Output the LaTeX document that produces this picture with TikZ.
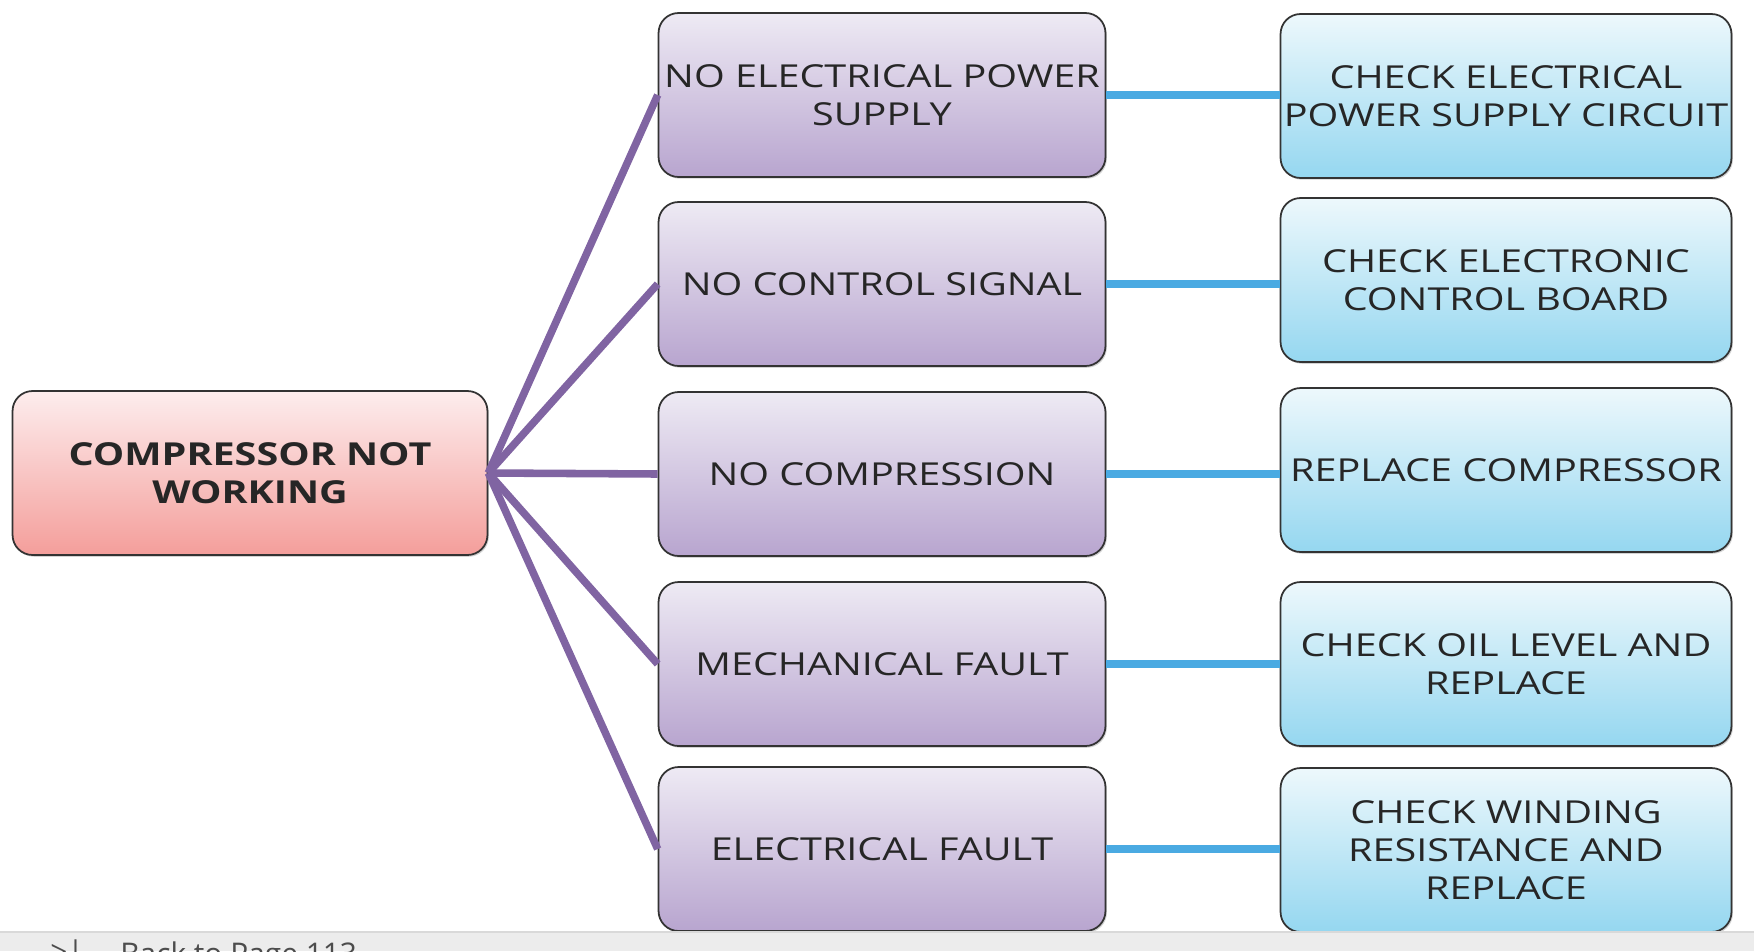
\documentclass[tikz,border=0pt]{standalone}
\usepackage{fontspec}
\setmainfont{Open Sans}
\newfontfamily\boxfont[FakeStretch=1.25]{Open Sans}
\usetikzlibrary{shadows}
\definecolor{rootTop}{HTML}{FDEDED}
\definecolor{rootBot}{HTML}{F49E9B}
\definecolor{causeTop}{HTML}{EEEAF4}
\definecolor{causeBot}{HTML}{B8A5CF}
\definecolor{fixTop}{HTML}{EDF8FC}
\definecolor{fixBot}{HTML}{95D7F0}
\definecolor{lnPurple}{HTML}{8064A2}
\definecolor{lnBlue}{HTML}{4AAAE2}
\definecolor{barGray}{HTML}{ECECEC}
\begin{document}
\begin{tikzpicture}[x=0.02cm, y=-0.02cm,
  box/.style={draw=black!80, line width=1pt, rounded corners=0.4cm, align=center,
    minimum height=3.28cm, inner sep=0pt, text=black!85,
    drop shadow={opacity=0.35, shadow xshift=0.8pt, shadow yshift=-1pt},
    font=\boxfont\fontsize{18}{21.6}\selectfont},
  rootbox/.style={box, minimum width=9.5cm, top color=rootTop, bottom color=rootBot,
    font=\boxfont\fontsize{18}{21.6}\selectfont\bfseries},
  causebox/.style={box, minimum width=8.94cm, top color=causeTop, bottom color=causeBot},
  fixbox/.style={box, minimum width=9.02cm, top color=fixTop, middle color=fixBot, bottom color=fixBot},
  toCause/.style={draw=lnPurple, line width=4.3pt},
  toFix/.style={draw=lnBlue, line width=4.2pt}]
  \useasboundingbox (0,0) rectangle (1754,951);
  % root
  \node[rootbox] (root) at (250,473) {COMPRESSOR NOT\\WORKING};
  % causes
  \node[causebox] (c1) at (882,95) {NO ELECTRICAL POWER\\SUPPLY};
  \node[causebox] (c2) at (882,284) {NO CONTROL SIGNAL};
  \node[causebox] (c3) at (882,474) {NO COMPRESSION};
  \node[causebox] (c4) at (882,664) {MECHANICAL FAULT};
  \node[causebox] (c5) at (882,849) {ELECTRICAL FAULT};
  % remedies
  \node[fixbox] (f1) at (1506,96) {CHECK ELECTRICAL\\POWER SUPPLY CIRCUIT};
  \node[fixbox] (f2) at (1506,280) {CHECK ELECTRONIC\\CONTROL BOARD};
  \node[fixbox] (f3) at (1506,470) {REPLACE COMPRESSOR};
  \node[fixbox] (f4) at (1506,664) {CHECK OIL LEVEL AND\\REPLACE};
  \node[fixbox] (f5) at (1506,850) {CHECK WINDING\\RESISTANCE AND\\REPLACE};
  % links
  \foreach \c in {c1,c2,c3,c4,c5}
    \draw[toCause] (root.east) -- (\c.west);
  \foreach \c/\f in {c1/f1,c2/f2,c3/f3,c4/f4,c5/f5}
    \draw[toFix] (\c.east) -- (\c.east -| \f.west);
  % page bar
  \fill[barGray] (0,932) rectangle (1754,951);
  \draw[black!15, line width=1pt] (0,932) -- (1754,932);
  \begin{scope}
    \clip (0,932) rectangle (1754,951);
    \node[anchor=north west, text=black!70, font=\fontsize{17}{20}\selectfont, inner sep=0pt] (back) at (120,941) {Back to Page 113};
    \node[anchor=north west, text=black!70, font=\fontsize{17}{20}\selectfont, inner sep=0pt] (icon) at (50,939) {>|};
  \end{scope}
\end{tikzpicture}
\end{document}
